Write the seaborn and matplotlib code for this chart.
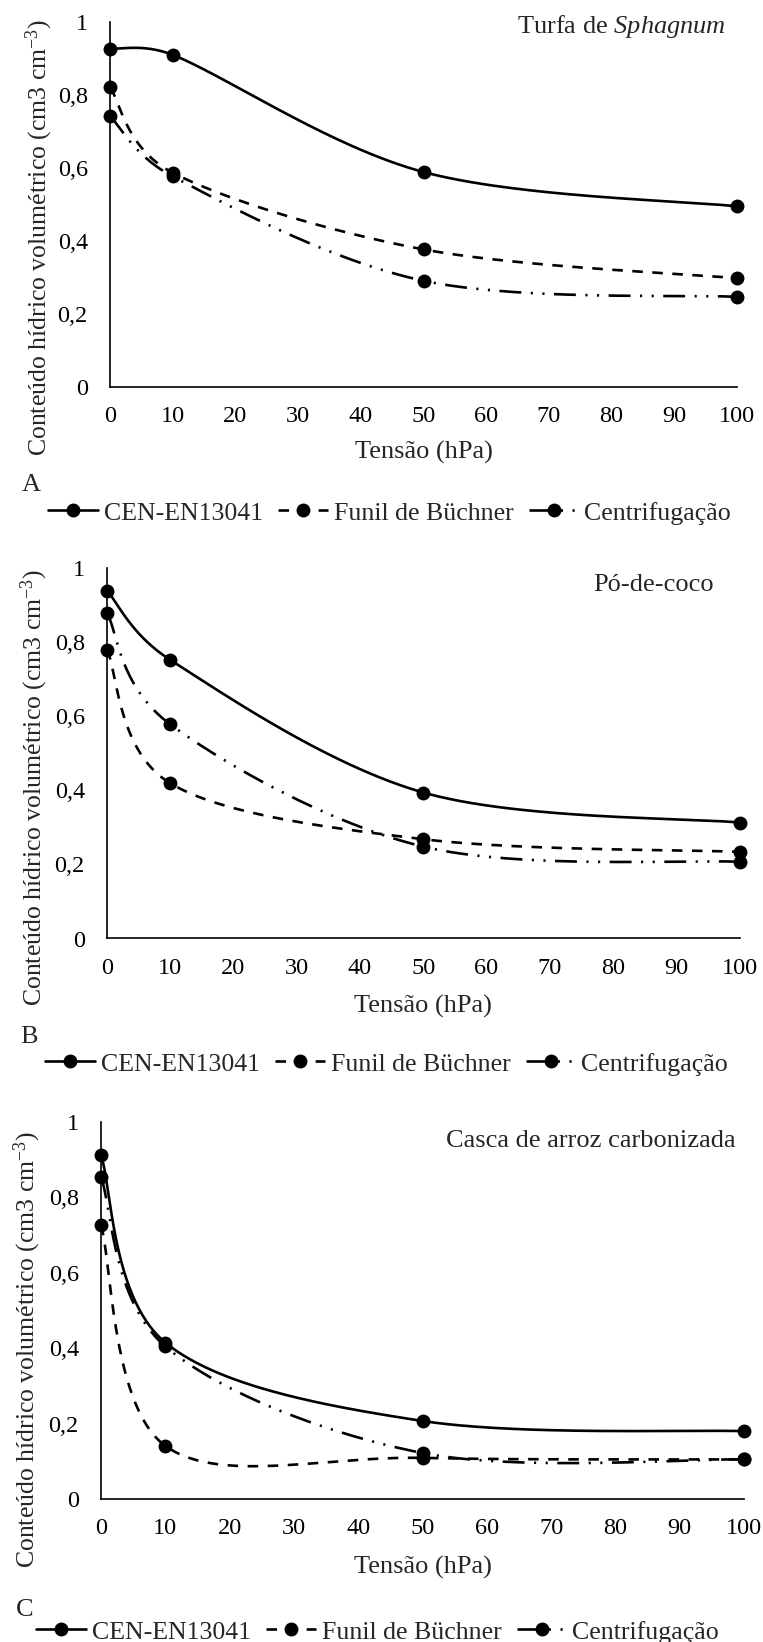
import numpy as np
import matplotlib
matplotlib.use("Agg")
import matplotlib.pyplot as plt
from matplotlib.lines import Line2D
import seaborn as sns

# ---- data -----------------------------------------------------------------
tensao = [0, 10, 50, 100]          # hPa
x_ticks = [0, 10, 20, 30, 40, 50, 60, 70, 80, 90, 100]
y_ticks = [0, 0.2, 0.4, 0.6, 0.8, 1.0]
y_tick_labels = ["0", "0,2", "0,4", "0,6", "0,8", "1"]
series_names = ["CEN-EN13041", "Funil de Büchner", "Centrifugação"]

# Turfa de Sphagnum
turfa_cen = [0.927, 0.910, 0.589, 0.495]
turfa_funil = [0.821, 0.587, 0.377, 0.298]
turfa_centr = [0.742, 0.577, 0.291, 0.247]

# Pó-de-coco
coco_cen = [0.939, 0.752, 0.394, 0.313]
coco_funil = [0.780, 0.419, 0.268, 0.234]
coco_centr = [0.879, 0.578, 0.248, 0.207]

# Casca de arroz carbonizada
arroz_cen = [0.912, 0.415, 0.207, 0.180]
arroz_funil = [0.727, 0.141, 0.109, 0.105]
arroz_centr = [0.854, 0.405, 0.122, 0.105]

panel_titles = [r"Turfa de $\mathit{Sphagnum}$", "Pó-de-coco", "Casca de arroz carbonizada"]
panel_letters = ["A", "B", "C"]
x_label = "Tensão (hPa)"
y_label = r"Conteúdo hídrico volumétrico (cm3 cm$^{-3}$)"

# ---- style ----------------------------------------------------------------
sns.set_theme(style="white")
plt.rcParams["font.family"] = ["Liberation Serif", "DejaVu Serif"]
plt.rcParams["mathtext.fontset"] = "custom"
plt.rcParams["mathtext.rm"] = "Liberation Serif"
plt.rcParams["mathtext.it"] = "Liberation Serif:italic"
plt.rcParams["mathtext.bf"] = "Liberation Serif:bold"

W, H = 763, 1642
FS = 19
YLAB_FS = 18.5
LEG_FS = 18.6
TICK_FS = 17.5
LW = 1.9
MS = 10
styles = [
    dict(linestyle="-"),
    dict(linestyle=(0, (4.0, 3.6))),
    dict(linestyle=(0, (8.3, 3.6, 0.8, 3.6, 0.8, 3.6))),
]

fig = plt.figure(figsize=(W / 100, H / 100), dpi=100)


def px_axes(left, right, top, bottom):
    return fig.add_axes([left / W, 1 - bottom / H, (right - left) / W, (bottom - top) / H])


def smooth_curve(ax, xs, ys, n=60):
    """Bezier smoothing in display space, control arms limited to half a segment."""
    pts = ax.transData.transform(np.column_stack([xs, ys]))
    m = len(pts)
    out = [pts[0]]
    t = np.linspace(0, 1, n)[1:, None]
    for i in range(m - 1):
        p0, p1 = pts[max(i - 1, 0)], pts[i]
        p2, p3 = pts[i + 1], pts[min(i + 2, m - 1)]
        half = np.linalg.norm(p2 - p1) / 2
        v1 = (p2 - p0) / 6
        v2 = (p3 - p1) / 6
        if np.linalg.norm(v1) > half:
            v1 = v1 * half / np.linalg.norm(v1)
        if np.linalg.norm(v2) > half:
            v2 = v2 * half / np.linalg.norm(v2)
        c1, c2 = p1 + v1, p2 - v2
        seg = ((1 - t) ** 3) * p1 + 3 * ((1 - t) ** 2) * t * c1 + 3 * (1 - t) * t ** 2 * c2 + t ** 3 * p2
        out.extend(seg)
    data = ax.transData.inverted().transform(np.array(out))
    return data[:, 0], data[:, 1]


panels = [
    dict(series=[turfa_cen, turfa_funil, turfa_centr], box=(110, 737, 22, 387),
         title_xy=(726, 27), ylab_xy=(39, 238), xlab_y=452, letter_xy=(22, 485), legend_xy=(48, 513)),
    dict(series=[coco_cen, coco_funil, coco_centr], box=(107, 739.5, 568, 938.5),
         title_xy=(714, 585), ylab_xy=(34, 788), xlab_y=1006, letter_xy=(20, 1037), legend_xy=(45, 1064)),
    dict(series=[arroz_cen, arroz_funil, arroz_centr], box=(101, 744, 1122, 1499),
         title_xy=(736, 1141), ylab_xy=(27, 1350), xlab_y=1567, letter_xy=(16, 1610), legend_xy=(36, 1632)),
]

for k, p in enumerate(panels):
    left, right, top, bottom = p["box"]
    ax = px_axes(left, right, top, bottom)
    ax.set_xlim(0, 100)
    ax.set_ylim(0, 1)
    ax.set_xticks(x_ticks)
    ax.set_xticklabels([str(v) for v in x_ticks])
    ax.set_yticks(y_ticks)
    ax.set_yticklabels(y_tick_labels)
    ax.tick_params(axis="both", length=0, labelsize=TICK_FS, colors="black")
    ax.tick_params(axis="x", pad=14)
    ax.tick_params(axis="y", pad=16)
    for side in ("top", "right"):
        ax.spines[side].set_visible(False)
    for side in ("left", "bottom"):
        ax.spines[side].set_color("black")
        ax.spines[side].set_linewidth(1.2)
    ax.grid(False)

    for vals, st in zip(p["series"], styles):
        sx, sy = smooth_curve(ax, tensao, vals)
        sns.lineplot(x=sx, y=sy, sort=False, estimator=None, ax=ax, color="black",
                     linewidth=LW, clip_on=False, zorder=3, **st)
        sns.scatterplot(x=tensao, y=vals, ax=ax, color="black", s=MS ** 2,
                        edgecolor="black", linewidth=0, clip_on=False, zorder=4)

    tx, ty = p["title_xy"]
    fig.text(tx / W, 1 - ty / H, panel_titles[k], ha="right", va="center", fontsize=FS)
    fig.text((left + right) / 2 / W, 1 - p["xlab_y"] / H, x_label, ha="center", va="center", fontsize=FS)
    yx, yy = p["ylab_xy"]
    fig.text(yx / W, 1 - yy / H, y_label, ha="center", va="center", rotation=90, fontsize=YLAB_FS)
    lx, ly = p["letter_xy"]
    fig.text(lx / W, 1 - ly / H, panel_letters[k], ha="left", va="center", fontsize=FS)

    handles = [Line2D([], [], color="black", linewidth=LW, marker="o", markersize=MS,
                      markeredgewidth=0, **st) for st in styles]
    gx, gy = p["legend_xy"]
    fig.legend(handles, series_names, loc="center left", bbox_to_anchor=(gx / W, 1 - gy / H),
               ncol=3, frameon=False, fontsize=LEG_FS, handlelength=1.95, handletextpad=0.2,
               columnspacing=0.6, borderpad=0, borderaxespad=0)

fig.savefig("out.png", dpi=100, facecolor="white")
